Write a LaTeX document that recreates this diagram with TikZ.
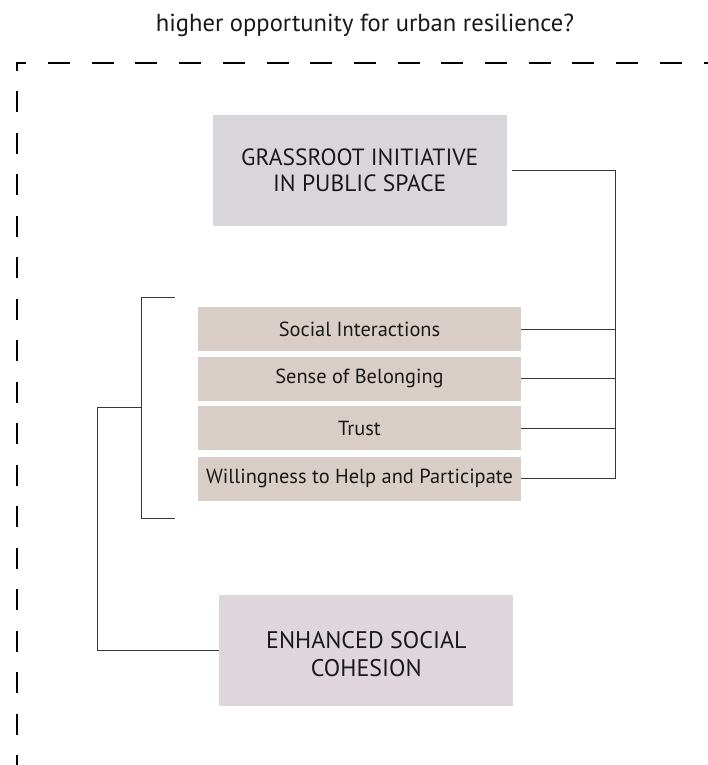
\documentclass[tikz,border=0pt]{standalone}
\usepackage{fontspec}
\setmainfont{PT Sans}
\definecolor{topfill}{RGB}{216,214,219}
\definecolor{itemfill}{RGB}{217,205,199}
\definecolor{ehsfill}{RGB}{222,214,218}
\definecolor{linecol}{RGB}{55,55,55}
\definecolor{txtcol}{RGB}{25,25,25}
\begin{document}
\begin{tikzpicture}[x=1pt,y=-1pt,
  bigbox/.style={rectangle,inner sep=0pt,minimum width=294pt,minimum height=110.7pt,align=center,text=txtcol,font=\fontsize{23.5}{26.7}\selectfont},
  itembox/.style={rectangle,inner sep=0pt,fill=itemfill,minimum width=323pt,minimum height=44pt,text=txtcol,font=\fontsize{20.4}{24}\selectfont},
  conn/.style={draw=linecol,line width=1pt},
  border/.style={line width=2pt,black}]
\useasboundingbox (0,0) rectangle (707,765);
\node[text=txtcol,font=\fontsize{24.6}{28}\selectfont,anchor=base] (title) at (365,32) {higher opportunity for urban resilience?};
% dashed border
\draw[border,dash pattern=on 22pt off 21.7pt,dash phase=12pt] (16.3,62.7) -- (720,62.7);
\draw[border,dash pattern=on 21pt off 20.5pt,dash phase=12pt] (17.3,61.7) -- (17.3,790);
% boxes
\node[bigbox,fill=topfill] (gi) at (359.7,170.3) {GRASSROOT INITIATIVE\\IN PUBLIC SPACE};
\node[itembox] (si) at (359.5,329) {Social Interactions};
\node[itembox] (sb) at (359.5,378.5) {Sense of Belonging};
\node[itembox] (tr) at (359.5,428) {Trust};
\node[itembox] (wp) at (359.5,478.5) {Willingness to Help and Participate};
\node[bigbox,fill=ehsfill,font=\fontsize{24}{28.5}\selectfont] (ehs) at (366.3,650.3) {\rule{0pt}{25pt}ENHANCED SOCIAL\\COHESION};
% coordinates
\coordinate (rv) at (615,170);
\coordinate (bt) at (175,297);
\coordinate (bb) at (175,518);
\coordinate (bm) at (141,407.5);
\coordinate (lv) at (97,407.5);
% right connector
\draw[conn] ([xshift=5pt]gi.east) -- (gi.east -| rv) -- (wp.east -| rv) -- (wp.east);
\draw[conn] (si.east) -- (si.east -| rv);
\draw[conn] (sb.east) -- (sb.east -| rv);
\draw[conn] (tr.east) -- (tr.east -| rv);
% left bracket
\draw[conn] (bt) -- (bt -| bm) -- (bb -| bm) -- (bb);
\draw[conn] (bm) -- (lv) -- (lv |- ehs.west) -- (ehs.west);
\end{tikzpicture}
\end{document}
